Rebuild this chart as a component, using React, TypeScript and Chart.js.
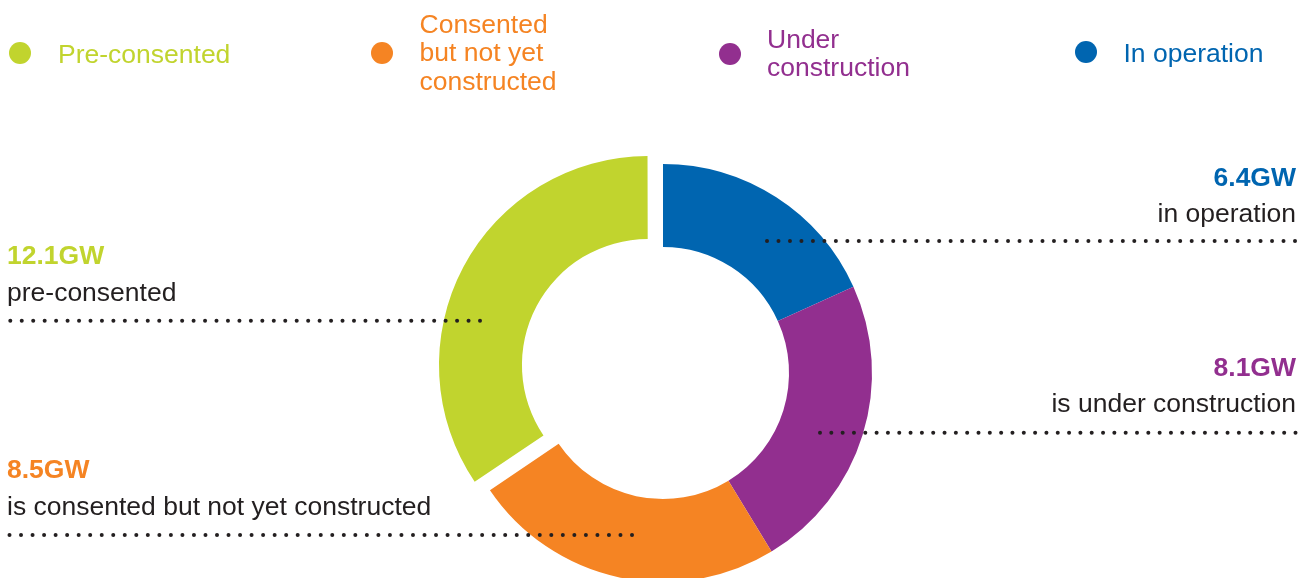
import React, { useEffect, useRef } from 'react';
import { Chart, registerables } from 'chart.js';

Chart.register(...registerables);

// ---- data ----
const categories = ['In operation', 'Under construction', 'Consented but not yet constructed', 'Pre-consented'];
const capacityGW = [6.4, 8.1, 8.5, 12.1];
const calloutText = ['in operation', 'is under construction', 'is consented but not yet constructed', 'pre-consented'];
const legendLines = [['In operation'], ['Under', 'construction'], ['Consented', 'but not yet', 'constructed'], ['Pre-consented']];
const legendOrder = [3, 2, 1, 0];
const sliceOffsets = [0, 0, 0, 68];

// ---- style / layout ----
const sliceColors = ['#0065B0', '#922F8F', '#F58423', '#C1D42E'];
const DARK = '#231F20';
const FONT = '"Liberation Sans", Arial, Helvetica, sans-serif';

// callout placement per category
const callouts = [
  { side: 'right', x: 1296, valueBase: 186, textBase: 222.7, dx1: 767, dx2: 1295, dy: 241 },
  { side: 'right', x: 1296, valueBase: 376, textBase: 412.7, dx1: 820, dx2: 1295.5, dy: 432.7 },
  { side: 'left', x: 7, valueBase: 478, textBase: 515, dx1: 9.5, dx2: 632, dy: 535 },
  { side: 'left', x: 7, valueBase: 264, textBase: 301, dx1: 10.3, dx2: 480, dy: 320.7 },
];

// legend placement per category
const legendPos = [
  { cx: 1086, cy: 52, tx: 1123.5, base: 62.3, lh: 28 },
  { cx: 730, cy: 53.5, tx: 767, base: 49, lh: 27.7 },
  { cx: 382, cy: 53, tx: 419.5, base: 33.3, lh: 28.3 },
  { cx: 20, cy: 52.5, tx: 58, base: 63.3, lh: 28 },
];

const W = 1309;
const H = 578;
const FS = 26.5;

const leaderDots = {
  id: 'leaderDots',
  afterDraw(chart: any) {
    const ctx = chart.ctx;
    ctx.save();
    ctx.fillStyle = DARK;
    callouts.forEach((c) => {
      const n = Math.round((c.dx2 - c.dx1) / 11.45);
      const step = (c.dx2 - c.dx1) / n;
      for (let i = 0; i <= n; i++) {
        ctx.beginPath();
        ctx.arc(c.dx1 + i * step, c.dy, 2, 0, Math.PI * 2);
        ctx.fill();
      }
    });
    ctx.restore();
  },
};

// keep exploded slice at the same radius as the others (Chart.js enlarges offset arcs slightly)
const offsetRadiusFix = {
  id: 'offsetRadiusFix',
  afterDatasetUpdate(chart: any, args: any) {
    const meta = chart.getDatasetMeta(args.index);
    meta.data.forEach((arc: any) => {
      const off = ((arc.options && arc.options.offset) || 0) / 4;
      if (!off) return;
      const fix = 1 - Math.sin(Math.min(Math.PI, arc.circumference || 0));
      arc.outerRadius -= off * fix;
      arc.innerRadius -= off * fix;
    });
  },
};

function TextLine(props: { x: number; base: number; side: string; color: string; bold?: boolean; lh?: number; children: any }) {
  const lh = props.lh || FS;
  const ascent = 0.905 * FS;
  const content = (0.905 + 0.212) * FS;
  const ascentOffset = ascent - (content - lh) / 2;
  const style: any = {
    position: 'absolute',
    top: props.base - ascentOffset,
    fontFamily: FONT,
    fontSize: FS,
    lineHeight: lh + 'px',
    color: props.color,
    fontWeight: props.bold ? 700 : 400,
    whiteSpace: 'nowrap',
  };
  if (props.side === 'right') style.right = W - props.x;
  else style.left = props.x;
  return <div style={style}>{props.children}</div>;
}

export default function App() {
  const canvasRef = useRef<HTMLCanvasElement | null>(null);

  useEffect(() => {
    if (!canvasRef.current) return;
    const chart = new Chart(canvasRef.current, {
      type: 'doughnut',
      data: {
        labels: categories,
        datasets: [
          {
            data: capacityGW,
            backgroundColor: sliceColors,
            borderWidth: 0,
            offset: sliceOffsets,
            hoverOffset: 0,
            clip: false,
          } as any,
        ],
      },
      options: {
        animation: false,
        responsive: false,
        maintainAspectRatio: false,
        events: [],
        rotation: 0,
        radius: 209,
        cutout: '60.3%',
        layout: { padding: { left: 17, right: 0, top: 200, bottom: 32 } },
        plugins: {
          legend: { display: false },
          tooltip: { enabled: false },
        },
      } as any,
      plugins: [offsetRadiusFix, leaderDots],
    });
    return () => chart.destroy();
  }, []);

  return (
    <div style={{ position: 'absolute', left: 0, top: 0, width: W, height: H, overflow: 'hidden', background: '#fff' }}>
      <canvas ref={canvasRef} width={W} height={H} style={{ position: 'absolute', left: 0, top: 0, display: 'block' }} />
      {legendOrder.map((i) => {
        const p = legendPos[i];
        return (
          <React.Fragment key={'lg' + i}>
            <div
              style={{
                position: 'absolute',
                left: p.cx - 11,
                top: p.cy - 11,
                width: 22,
                height: 22,
                borderRadius: '50%',
                background: sliceColors[i],
              }}
            />
            {legendLines[i].map((line, k) => (
              <TextLine key={k} x={p.tx} base={p.base + k * p.lh} side="left" color={sliceColors[i]} lh={p.lh}>
                {line}
              </TextLine>
            ))}
          </React.Fragment>
        );
      })}
      {categories.map((c, i) => {
        const co = callouts[i];
        return (
          <React.Fragment key={'co' + i}>
            <TextLine x={co.x} base={co.valueBase} side={co.side} color={sliceColors[i]} bold>
              {capacityGW[i] + 'GW'}
            </TextLine>
            <TextLine x={co.x} base={co.textBase} side={co.side} color={DARK}>
              {calloutText[i]}
            </TextLine>
          </React.Fragment>
        );
      })}
    </div>
  );
}
